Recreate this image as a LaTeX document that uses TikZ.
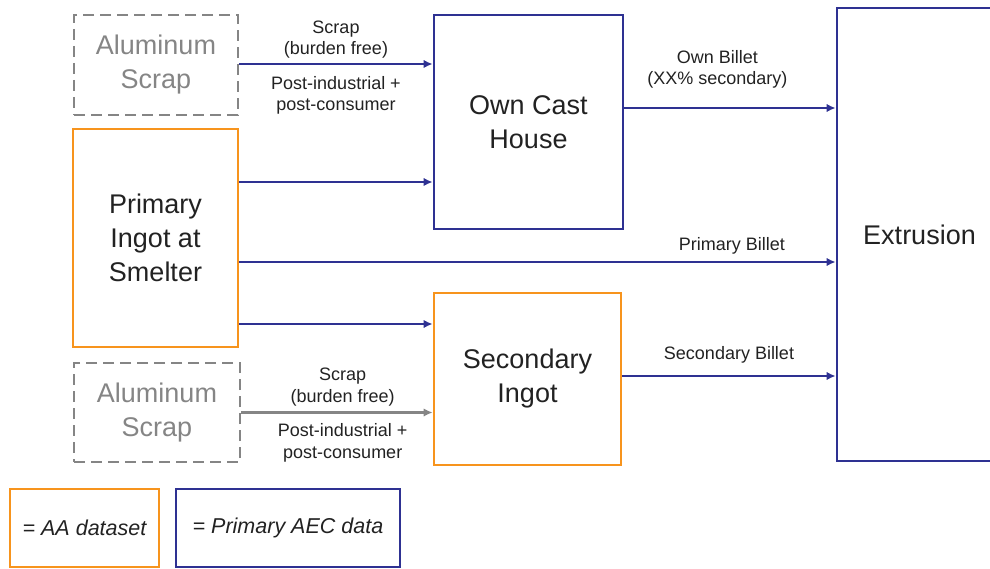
\documentclass[tikz,border=0pt]{standalone}
\usepackage{fontspec}
\setmainfont{Liberation Sans}
\usepackage{tikz}
\usetikzlibrary{arrows,arrows.meta,shapes,calc}

\definecolor{aecblue}{HTML}{2E3192}
\definecolor{aaorange}{HTML}{F7941D}
\definecolor{scrapgray}{HTML}{858585}
\definecolor{inkgray}{HTML}{222222}

\begin{document}
\begin{tikzpicture}[x=1pt,y=-1pt,>={Latex[length=9pt,width=8.5pt]},
        box/.style={draw,line width=2.8pt,align=center,inner sep=0pt,text=inkgray,
            font=\fontsize{27}{34}\selectfont},
        aabox/.style={box,draw=aaorange},
        aecbox/.style={box,draw=aecblue},
        scrapbox/.style={box,draw=scrapgray,dash pattern=on 11pt off 6pt,text=scrapgray},
        flow/.style={->,line width=2.7pt,draw=aecblue},
        scrapflow/.style={flow,draw=scrapgray},
        lbl/.style={font=\fontsize{18}{21.5}\selectfont,text=inkgray,align=center,inner sep=0pt},
        legend/.style={box,font=\fontsize{21.5}{26}\selectfont\itshape}]
        % fix the page size
        \useasboundingbox (0,0) rectangle (990,569);

        % draw the source boxes
        \node[scrapbox,minimum width=164pt,minimum height=100pt] (scrapA) at (156,65) {Aluminum\\Scrap};
        \node[aabox,minimum width=165pt,minimum height=218pt] (primary) at (155.5,238) {Primary\\Ingot at\\Smelter};
        \node[scrapbox,minimum width=166pt,minimum height=99pt] (scrapB) at (157,412.5) {Aluminum\\Scrap};

        % draw the middle boxes
        \node[aecbox,minimum width=189pt,minimum height=214pt] (cast) at (528.5,122) {Own Cast\\House};
        \node[aabox,minimum width=187pt,minimum height=172pt] (second) at (527.5,379) {Secondary\\Ingot};

        % draw the extrusion box, its right side is cut off
        \node[aecbox,minimum width=165pt,minimum height=453pt] (extr) at (919.5,234.5) {Extrusion};

        % draw the flows into the cast house
        \draw[flow] ([yshift=1pt]scrapA.east) -- ([yshift=1pt]scrapA.east -| cast.west)
            node[lbl,midway,above=4pt] {Scrap\\(burden free)}
            node[lbl,midway,below=11pt] {Post-industrial +\\post-consumer};
        \draw[flow] ([yshift=56pt]primary.east) -- ([yshift=56pt]primary.east -| cast.west);

        % draw the flows into the secondary ingot
        \draw[flow] ([yshift=-86pt]primary.east) -- ([yshift=-86pt]primary.east -| second.west);
        \draw[scrapflow] (scrapB.east) -- (scrapB.east -| second.west)
            node[lbl,pos=0.53,above=5pt] {Scrap\\(burden free)}
            node[lbl,pos=0.53,below=10pt] {Post-industrial +\\post-consumer};

        % draw the billets going to extrusion
        \draw[flow] ([yshift=14pt]cast.east) -- ([yshift=14pt]cast.east -| extr.west)
            node[lbl,pos=0.44,above=18pt] {Own Billet\\(XX\% secondary)};
        \draw[flow] ([yshift=-24pt]primary.east) -- ([yshift=-24pt]primary.east -| extr.west)
            node[lbl,pos=0.826,above=6pt] {Primary Billet};
        \draw[flow] ([yshift=3pt]second.east) -- ([yshift=3pt]second.east -| extr.west)
            node[lbl,midway,above=11pt] {Secondary Billet};

        % draw the legend
        \node[legend,draw=aaorange,minimum width=149pt,minimum height=78pt] (legAA) at (84.5,528) {= AA dataset};
        \node[legend,draw=aecblue,minimum width=224pt,minimum height=78pt] (legAEC) at (288,528) {= Primary AEC data};
\end{tikzpicture}
\end{document}
